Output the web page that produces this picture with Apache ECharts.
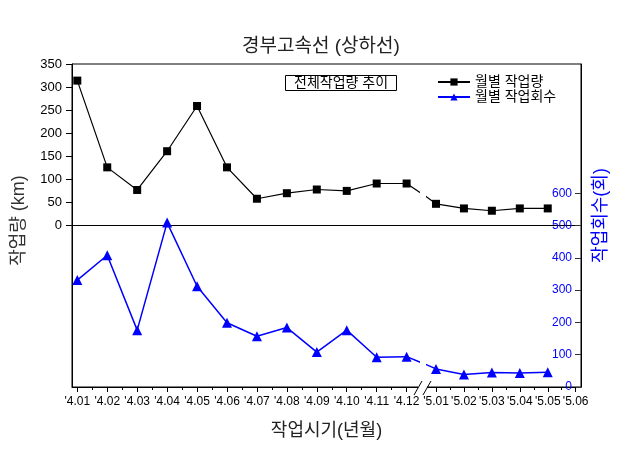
<!DOCTYPE html>
<html>
<head>
<meta charset="utf-8">
<script src="https://cdn.jsdelivr.net/npm/echarts@6/dist/echarts.min.js"></script>
<style>
  html, body { margin: 0; padding: 0; background: #fff; }
  #chart { width: 629px; height: 462px; }
</style>
</head>
<body>
<div id="chart"></div>
<script>
// x labels, one list per year (the axis is broken between them)
const labels4 = ["'4.01", "'4.02", "'4.03", "'4.04", "'4.05", "'4.06",
                 "'4.07", "'4.08", "'4.09", "'4.10", "'4.11", "'4.12"];
const labels5 = ["'5.01", "'5.02", "'5.03", "'5.04", "'5.05", "'5.06"];

// 월별 작업량 (km)
const work4 = [314, 126, 77, 161, 259, 126, 58, 70, 78, 75, 91, 91];
const work5 = [47, 37, 32, 37, 37];

// 월별 작업회수 (회)
const count4 = [331, 408, 176, 509, 312, 199, 157, 184, 108, 176, 92, 94];
const count5 = [56, 39, 45, 43, 46];

const kmTicks = [0, 50, 100, 150, 200, 250, 300, 350];
const countTicks = [0, 100, 200, 300, 400, 500, 600];

const FONT = "'Liberation Sans', 'Noto Sans CJK KR', sans-serif";
const BLUE = '#0000ff';

let chart = echarts.init(document.getElementById('chart'));

function range(a, b, step) {
  let out = [];
  for (let v = a; v <= b + 1e-9; v += step) out.push(v);
  return out;
}

// year 4 gets the first value of year 5 so the line runs into the break, and the other way round
let work4Data  = work4.map((v, i) => [i, v]).concat([[work4.length, work5[0]]]);
let count4Data = count4.map((v, i) => [i, v]).concat([[count4.length, count5[0]]]);
let work5Data  = [[-1, work4[work4.length - 1]]].concat(work5.map((v, i) => [i, v]));
let count5Data = [[-1, count4[count4.length - 1]]].concat(count5.map((v, i) => [i, v]));

const TOP = 64, BOTTOM = 75;

function hiddenY(grid, min, max) {
  return {
    type: 'value', gridIndex: grid, min: min, max: max, show: false,
    splitLine: {show: false}
  };
}

function catAxis(grid, min, max, labels) {
  return {
    type: 'value', gridIndex: grid, position: 'bottom', min: min, max: max,
    splitLine: {show: false},
    axisLine: {onZero: false, lineStyle: {color: '#000', width: 1}},
    axisTick: {customValues: range(0, labels.length - 1, 1), length: 5, lineStyle: {color: '#000'}},
    axisLabel: {
      customValues: range(0, labels.length - 1, 1),
      formatter: v => labels[Math.round(v)],
      color: '#000', fontSize: 12, fontFamily: FONT, margin: 9
    }
  };
}

function minorAxis(grid, min, max, ticks) {
  return {
    type: 'value', gridIndex: grid, position: 'bottom', min: min, max: max,
    splitLine: {show: false},
    axisLine: {show: false, onZero: false},
    axisLabel: {show: false},
    axisTick: {customValues: ticks, length: 3, lineStyle: {color: '#000'}}
  };
}

function workSeries(x, y, data) {
  return {
    name: '월별 작업량', type: 'line', xAxisIndex: x, yAxisIndex: y,
    data: data, clip: true,
    symbol: 'rect', symbolSize: 8,
    itemStyle: {color: '#000'},
    lineStyle: {color: '#000', width: 1.2}
  };
}

function countSeries(x, y, data) {
  return {
    name: '월별 작업회수', type: 'line', xAxisIndex: x, yAxisIndex: y,
    data: data, clip: true,
    symbol: 'triangle', symbolSize: 10,
    itemStyle: {color: BLUE},
    lineStyle: {color: BLUE, width: 1.5}
  };
}

let option = {
  animation: false,
  backgroundColor: '#fff',
  textStyle: {fontFamily: FONT},
  title: [{
    text: '경부고속선 (상하선)',
    left: 237, top: 32,
    textStyle: {fontSize: 19, fontWeight: 'normal', color: '#222', fontFamily: FONT}
  }, {
    text: '전체작업량 추이',
    left: 285, top: 75,
    padding: [1, 9],
    borderColor: '#000', borderWidth: 1,
    textStyle: {fontSize: 14, fontWeight: 'normal', color: '#000', fontFamily: FONT}
  }],
  legend: {
    data: ['월별 작업량', '월별 작업회수'],
    orient: 'vertical',
    left: 432, top: 70,
    itemWidth: 32, itemHeight: 9, itemGap: 1,
    textStyle: {fontSize: 14, color: '#000', fontFamily: FONT}
  },
  grid: [
    {left: 72, right: 48, top: TOP, bottom: BOTTOM, outerBoundsMode: 'none',
     show: true, borderColor: '#000', borderWidth: 1},
    {left: 72, width: 346, top: TOP, bottom: BOTTOM, outerBoundsMode: 'none'},
    {left: 427, right: 48, top: TOP, bottom: BOTTOM, outerBoundsMode: 'none'}
  ],
  xAxis: [
    // frame: zero line
    {type: 'value', gridIndex: 0, position: 'bottom', min: 0, max: 1,
     splitLine: {show: false}, axisTick: {show: false}, axisLabel: {show: false},
     axisLine: {show: true, onZero: true, onZeroAxisIndex: 0, lineStyle: {color: '#000'}}},
    // frame: axis name
    {type: 'value', gridIndex: 0, position: 'bottom', min: 0, max: 1,
     splitLine: {show: false}, axisTick: {show: false}, axisLabel: {show: false},
     axisLine: {show: false, onZero: false},
     name: '작업시기(년월)', nameLocation: 'middle', nameGap: 35,
     nameTextStyle: {fontSize: 18, color: '#222', fontFamily: FONT}},
    catAxis(1, -0.177, 11.38, labels4),
    minorAxis(1, -0.177, 11.38, range(0.5, 10.5, 1)),
    catAxis(2, -0.322, 5.19, labels5),
    minorAxis(2, -0.322, 5.19, range(0.5, 4.5, 1))
  ],
  yAxis: [
    {type: 'value', gridIndex: 0, position: 'left', min: -350, max: 350,
     splitLine: {show: false},
     axisLine: {show: true, onZero: false, lineStyle: {color: '#000'}},
     axisTick: {show: true, customValues: kmTicks, length: 6, lineStyle: {color: '#000'}},
     axisLabel: {customValues: kmTicks, color: '#000', fontSize: 13, margin: 10, fontFamily: FONT},
     name: '작업량 (km)', nameLocation: 'middle', nameGap: 44, nameRotate: 90,
     nameTextStyle: {fontSize: 18, color: '#333', fontFamily: FONT, padding: [0, 0, 0, 10]}},
    {type: 'value', gridIndex: 0, position: 'right', min: 0, max: 1000,
     splitLine: {show: false},
     axisLine: {show: true, onZero: false, lineStyle: {color: '#000'}},
     axisTick: {show: true, customValues: countTicks, inside: true, length: 6, lineStyle: {color: '#333'}},
     axisLabel: {customValues: countTicks, inside: true, color: BLUE, fontSize: 12, margin: 9, fontFamily: FONT},
     name: '작업회수(회)', nameLocation: 'middle', nameGap: 11, nameRotate: 90,
     nameTextStyle: {fontSize: 18, color: BLUE, fontFamily: FONT, padding: [0, 0, 0, 20]}},
    hiddenY(1, -350, 350),
    hiddenY(1, 0, 1000),
    hiddenY(2, -350, 350),
    hiddenY(2, 0, 1000)
  ],
  series: [
    workSeries(2, 2, work4Data),
    countSeries(2, 3, count4Data),
    workSeries(4, 4, work5Data),
    countSeries(4, 5, count5Data)
  ],
  // the gap and the // marks of the axis break
  graphic: [
    {type: 'rect', shape: {x: 418, y: 385, width: 9, height: 4}, style: {fill: '#fff'}, z: 100},
    {type: 'line', shape: {x1: 414, y1: 395, x2: 422, y2: 381}, style: {stroke: '#000', lineWidth: 1}, z: 101},
    {type: 'line', shape: {x1: 423, y1: 395, x2: 431, y2: 381}, style: {stroke: '#000', lineWidth: 1}, z: 101}
  ]
};

chart.setOption(option, true);
window.onresize = function() {
  chart.resize();
};
</script>
</body>
</html>
